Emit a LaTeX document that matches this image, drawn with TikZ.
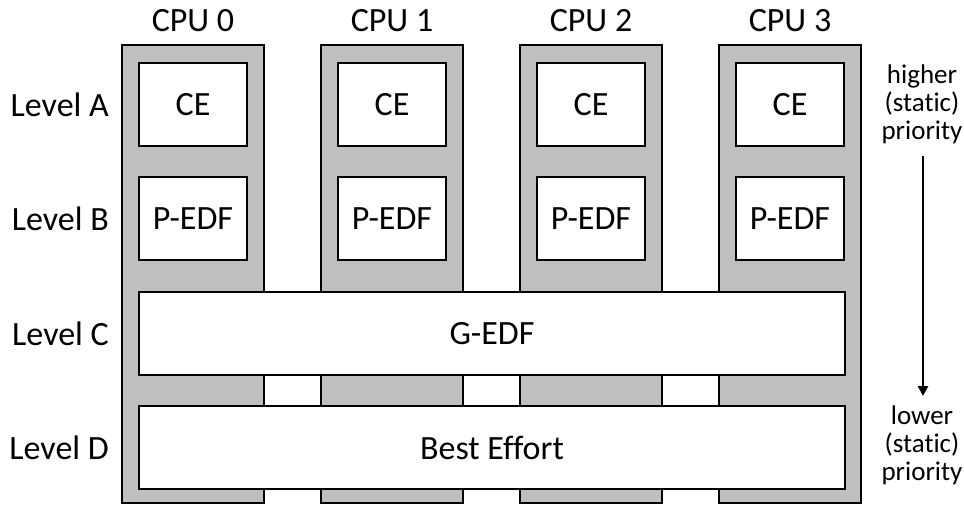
\documentclass[tikz,border=0pt]{standalone}
\usepackage{fontspec}
\setmainfont{Carlito}[RawFeature={-liga}]
\usetikzlibrary{arrows.meta}
\definecolor{colgray}{HTML}{BFBFBF}
\begin{document}
\begin{tikzpicture}[x=1pt,y=-1pt,
  column/.style={draw=black,line width=2pt,fill=colgray,minimum width=142pt,minimum height=458pt,inner sep=0pt},
  cell/.style={draw=black,line width=2pt,fill=white,minimum width=108pt,minimum height=83pt,inner sep=0pt,font=\fontsize{34}{40}\selectfont},
  bar/.style={draw=black,line width=2pt,fill=white,minimum width=706pt,minimum height=83pt,inner sep=0pt,font=\fontsize{34}{40}\selectfont},
  lbl/.style={font=\fontsize{34}{40}\selectfont,inner sep=0pt},
  side/.style={font=\fontsize{27}{28}\selectfont,align=center,inner sep=0pt}]
\useasboundingbox (0,0) rectangle (964,504);
\foreach \i/\x in {0/193,1/392,2/591,3/790}{
  \node[column] (col\i) at (\x,274) {};
  \node[lbl] (cpu\i) at (\x,21) {CPU \i};
  \node[cell] (ce\i) at (\x,104.5) {CE};
  \node[cell] (pedf\i) at (\x,218.5) {P-EDF};
}
\node[bar] (gedf) at (492,333.5) {G-EDF};
\node[bar] (be) at (492,447.5) {Best Effort};
\node[lbl,anchor=east] (la) at (109,104.5) {Level A};
\node[lbl,anchor=east] (lb) at (109,218.5) {Level B};
\node[lbl,anchor=east] (lc) at (109,333.5) {Level C};
\node[lbl,anchor=east] (ld) at (109,447.5) {Level D};
\node[side] (hi) at (922,104) {higher\\(static)\\priority};
\node[side] (lo) at (922,445) {lower\\(static)\\priority};
\coordinate (atop) at (923,156);
\coordinate (abot) at (923,396);
\draw[line width=2.5pt,-{Triangle[length=10pt,width=10pt]}] (atop) -- (abot);
\end{tikzpicture}
\end{document}
